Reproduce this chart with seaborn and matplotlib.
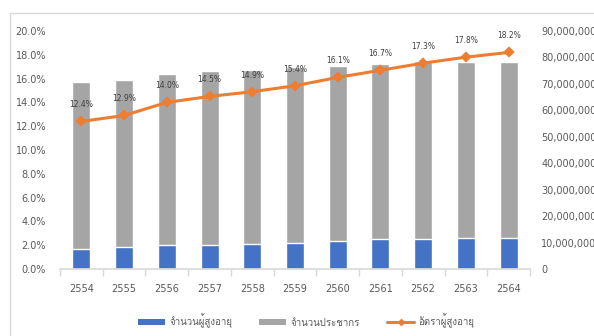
import numpy as np
import pandas as pd
import matplotlib
matplotlib.use("Agg")
import matplotlib.pyplot as plt
import seaborn as sns
from matplotlib import font_manager as fm
from matplotlib.ft2font import FT2Font
from matplotlib.patches import Patch, Rectangle
from matplotlib.lines import Line2D
from matplotlib.ticker import FuncFormatter, MultipleLocator

years = ["2554", "2555", "2556", "2557", "2558", "2559", "2560", "2561", "2562", "2563", "2564"]
elderly = [7.7e6, 8.2e6, 9.0e6, 9.2e6, 9.6e6, 9.9e6, 10.7e6, 11.2e6, 11.4e6, 11.6e6, 11.8e6]
population = [62.9e6, 63.1e6, 64.6e6, 65.6e6, 65.6e6, 66.5e6, 66.1e6, 66.3e6, 67.4e6, 66.6e6, 66.6e6]
ratio = [12.4, 12.9, 14.0, 14.5, 14.9, 15.4, 16.1, 16.7, 17.3, 17.8, 18.2]
ratio_labels = ["12.4%", "12.9%", "14.0%", "14.5%", "14.9%", "15.4%", "16.1%", "16.7%", "17.3%", "17.8%", "18.2%"]
legend_labels = ["จำนวนผู้สูงอายุ", "จำนวนประชากร", "อัตราผู้สูงอายุ"]

BLUE = "#4472C4"
GREY = "#A5A5A5"
ORANGE = "#ED7D31"
TXT = "#595959"


def find_thai():
    for f in fm.fontManager.ttflist:
        try:
            cm = FT2Font(f.fname).get_charmap()
            if 0x0E08 in cm and 0x0E33 in cm:
                return f.name
        except Exception:
            pass
    return None


sns.set_theme(style="white")
thai = find_thai()
fams = ["DejaVu Sans"]
if thai:
    fams.append(thai)
plt.rcParams["font.family"] = fams

df = pd.DataFrame({"year": years, "elderly": elderly, "population": population, "ratio": ratio})
df["total"] = df["elderly"] + df["population"]

fig = plt.figure(figsize=(5.94, 3.36), dpi=100)
fig.add_artist(Rectangle((10 / 594, -0.1), 1.2, 1.1 - 13 / 336, transform=fig.transFigure,
                         fill=False, edgecolor="#D9D9D9", linewidth=1.0))
ax = fig.add_axes([60 / 594, 67 / 336, 470 / 594, 238 / 336])
sns.barplot(data=df, x="year", y="total", color=GREY, saturation=1, width=0.42, ax=ax)
sns.barplot(data=df, x="year", y="elderly", color=BLUE, saturation=1, width=0.42, ax=ax)

ax2 = ax.twinx()
sns.pointplot(data=df, x="year", y="ratio", color=ORANGE, markers="D", errorbar=None,
              ax=ax2, markersize=4, linewidth=2.2)

ax.set_ylim(0, 90e6)
ax.yaxis.set_major_locator(MultipleLocator(10e6))
ax.yaxis.tick_right()
ax.yaxis.set_label_position("right")
ax.yaxis.set_major_formatter(FuncFormatter(lambda v, p: "0" if v == 0 else f"{v:,.0f}"))

ax2.set_ylim(0, 20)
ax2.yaxis.set_major_locator(MultipleLocator(2))
ax2.yaxis.tick_left()
ax2.yaxis.set_label_position("left")
ax2.yaxis.set_major_formatter(FuncFormatter(lambda v, p: f"{v:.1f}%"))
for i, (v, lab) in enumerate(zip(ratio, ratio_labels)):
    ax2.annotate(lab, (i, v), xytext=(0, 12), textcoords="offset points",
                 ha="center", va="center", fontsize=5.5, color="#404040")

for a in (ax, ax2):
    a.set_xlim(-0.5, len(years) - 0.5)
    a.set_xlabel("")
    a.set_ylabel("")
    for s in a.spines.values():
        s.set_visible(False)
    a.tick_params(axis="y", length=0, labelsize=7, labelcolor=TXT, pad=8)
ax2.tick_params(axis="y", pad=10)
ax.spines["bottom"].set_visible(True)
ax.spines["bottom"].set_color("#D9D9D9")
ax.set_xticks(range(len(years)))
ax.set_xticklabels(years)
ax.set_xticks(np.arange(-0.5, len(years) + 0.5, 1), minor=True)
ax.tick_params(axis="x", which="major", length=0, labelsize=7, labelcolor=TXT, pad=11)
ax.tick_params(axis="x", which="minor", length=5, color="#D9D9D9", direction="out", bottom=True)
ax2.tick_params(axis="x", which="both", length=0, labelbottom=False)

handles = [Patch(facecolor=BLUE, edgecolor="none"),
           Patch(facecolor=GREY, edgecolor="none"),
           Line2D([0], [0], color=ORANGE, lw=2.2, marker="D", markersize=3)]
fig.legend(handles, legend_labels, loc="center", bbox_to_anchor=(306 / 594, 15 / 336), ncol=3,
           frameon=False, fontsize=7, labelcolor=TXT, handlelength=2.8, handleheight=0.6,
           columnspacing=2.8, handletextpad=0.4)

fig.savefig("out.png", dpi=100)
